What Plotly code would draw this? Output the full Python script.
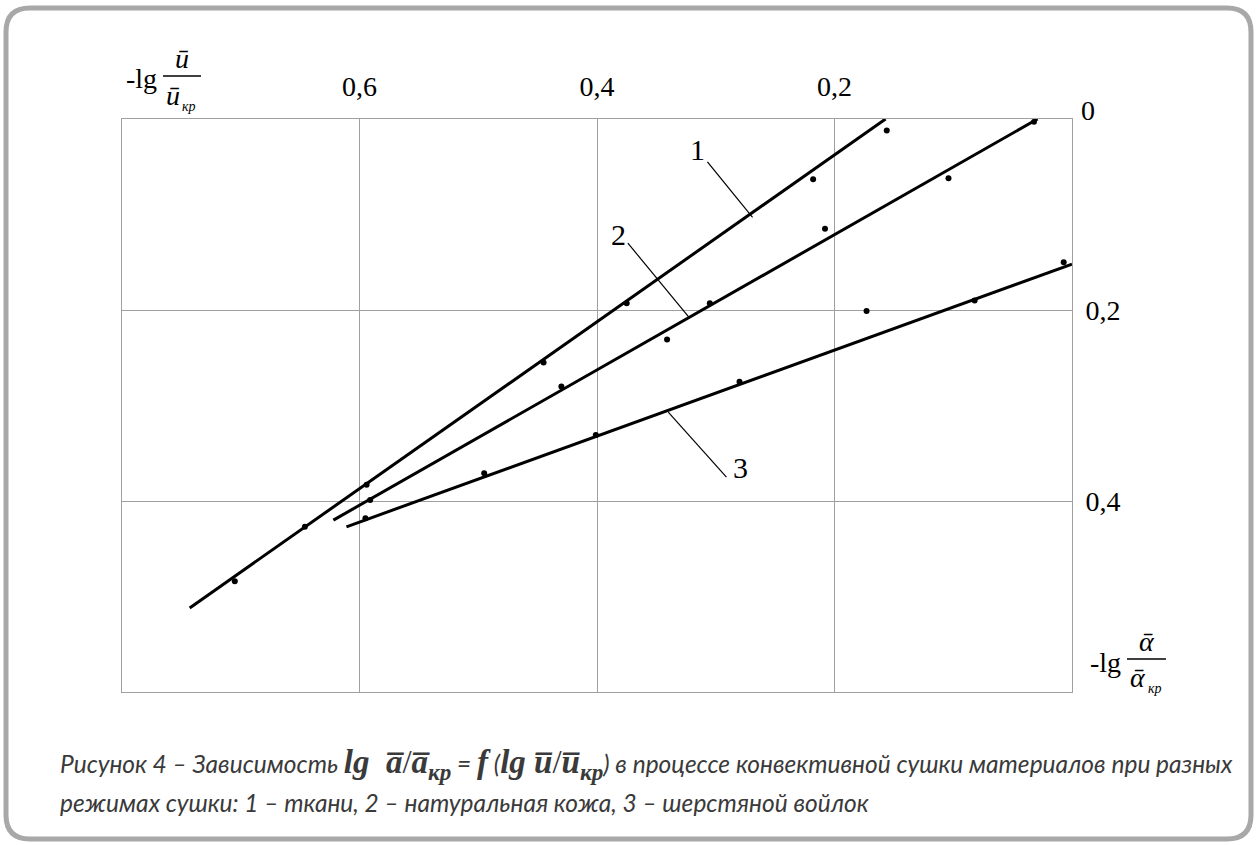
import plotly.graph_objects as go

W, H = 1257, 845

# ---------------- data ----------------
# measured points (x = -lg(u/u_kr), y = -lg(a/a_kr))
s1_x = [0.705, 0.646, 0.594, 0.445, 0.375, 0.218, 0.156]
s1_y = [0.484, 0.427, 0.383, 0.255, 0.193, 0.063, 0.012]
s2_x = [0.591, 0.430, 0.341, 0.305, 0.208, 0.104, 0.032]
s2_y = [0.399, 0.280, 0.231, 0.193, 0.115, 0.062, 0.003]
s3_x = [0.595, 0.495, 0.401, 0.280, 0.173, 0.082, 0.007]
s3_y = [0.418, 0.371, 0.331, 0.275, 0.201, 0.190, 0.150]

# fitted straight lines (end points)
l1_x = [0.743, 0.157]
l1_y = [0.512, 0.0]
l2_x = [0.622, 0.029]
l2_y = [0.420, 0.0]
l3_x = [0.611, 0.0]
l3_y = [0.427, 0.152]

# curve labels and leader lines
lab_text = ["1", "2", "3"]
lab_x = [0.315, 0.382, 0.279]
lab_y = [0.032, 0.121, 0.365]
lead_x0 = [0.307, 0.374, 0.291]
lead_y0 = [0.045, 0.130, 0.375]
lead_x1 = [0.269, 0.323, 0.340]
lead_y1 = [0.103, 0.207, 0.307]

x_ticks = [0.6, 0.4, 0.2]
x_ticktext = ["0,6", "0,4", "0,2"]
y_ticks = [0.2, 0.4]
y_ticktext = ["0,2", "0,4"]
y_zero_text = "0"

SERIF = "Liberation Serif, Times New Roman, serif"


def px(x):
    return x / W


def py(y):
    return 1 - y / H


fig = go.Figure()

for lx, ly in [(l1_x, l1_y), (l2_x, l2_y), (l3_x, l3_y)]:
    fig.add_trace(go.Scatter(x=lx, y=ly, mode="lines",
                             line=dict(color="black", width=3),
                             hoverinfo="skip", showlegend=False))
for sx, sy in [(s1_x, s1_y), (s2_x, s2_y), (s3_x, s3_y)]:
    fig.add_trace(go.Scatter(x=sx, y=sy, mode="markers",
                             marker=dict(color="black", size=6),
                             showlegend=False))

shapes = []
for x0, y0, x1, y1 in zip(lead_x0, lead_y0, lead_x1, lead_y1):
    shapes.append(dict(type="line", xref="x", yref="y", x0=x0, y0=y0, x1=x1, y1=y1,
                       line=dict(color="black", width=1.2)))

# rounded outer frame (pixel geometry converted to paper)
L, R, T, B, r = 6, 1251, 8, 839, 24
path = (f"M {px(L + r)},{py(T)} L {px(R - r)},{py(T)} "
        f"Q {px(R)},{py(T)} {px(R)},{py(T + r)} "
        f"L {px(R)},{py(B - r)} Q {px(R)},{py(B)} {px(R - r)},{py(B)} "
        f"L {px(L + r)},{py(B)} Q {px(L)},{py(B)} {px(L)},{py(B - r)} "
        f"L {px(L)},{py(T + r)} Q {px(L)},{py(T)} {px(L + r)},{py(T)} Z")
shapes.append(dict(type="path", xref="paper", yref="paper", path=path,
                   line=dict(color="#a8a8a8", width=5), layer="below"))

# fraction bars of axis titles
shapes.append(dict(type="line", xref="paper", yref="paper",
                   x0=px(163), x1=px(201), y0=py(76), y1=py(76),
                   line=dict(color="black", width=1.5)))
shapes.append(dict(type="line", xref="paper", yref="paper",
                   x0=px(1127), x1=px(1166), y0=py(659), y1=py(659),
                   line=dict(color="black", width=1.5)))

ann = []
for t, x, y in zip(lab_text, lab_x, lab_y):
    ann.append(dict(x=x, y=y, xref="x", yref="y", text=t, showarrow=False,
                    font=dict(family=SERIF, size=30, color="black")))


def ptext(text, x, y, size, xanchor="center", yanchor="middle", family=SERIF, color="black"):
    ann.append(dict(x=px(x), y=py(y), xref="paper", yref="paper", text=text,
                    showarrow=False, xanchor=xanchor, yanchor=yanchor,
                    font=dict(family=family, size=size, color=color)))


# "0" of the right axis sits just above the frame
ptext(y_zero_text, 1079, 111, 28, xanchor="left")

# top-left axis title: -lg ū / ū_кр
ptext("-lg", 141, 79, 28)
ptext("<i>ū</i>", 182, 59, 28)
ptext("<i>ū</i>", 173, 95, 28)
ptext("<i>кр</i>", 189, 106, 14)

# bottom-right axis title: -lg ᾱ / ᾱ_кр
ptext("-lg", 1105, 662, 28)
ptext("<i>ᾱ</i>", 1147, 641, 28)
ptext("<i>ᾱ</i>", 1138, 677, 28)
ptext("<i>кр</i>", 1155, 688, 14)

# caption
CAP = "Lato, Noto Sans, sans-serif"
MATH = "font-family:'Liberation Serif';font-size:33px"
cap1 = ("<i>Рисунок 4 – Зависимость </i>"
        f"<span style=\"{MATH}\"><b><i>lg</i></b>  <b><i>a̅</i></b>/<b><i>a̅</i></b><sub><b><i>кр</i></b></sub></span>"
        "<i> = </i>"
        f"<span style=\"{MATH}\"><b><i>f</i></b></span>"
        f"<i> (</i><span style=\"{MATH}\"><b><i>lg</i></b> <b><i>u̅</i></b>/<b><i>u̅</i></b><sub><b><i>кр</i></b></sub></span><i>)"
        " в процессе конвективной сушки материалов при разных</i>")
cap2 = "<i>режимах сушки: 1 – ткани, 2 – натуральная кожа, 3 – шерстяной войлок</i>"
ptext(cap1, 58, 764, 24.5, xanchor="left", family=CAP, color="#3a3a3a")
ptext(cap2, 58, 802, 24.5, xanchor="left", family=CAP, color="#3a3a3a")

fig.update_layout(
    width=W, height=H,
    margin=dict(l=0, r=0, t=0, b=0),
    paper_bgcolor="white", plot_bgcolor="white",
    showlegend=False,
    shapes=shapes, annotations=ann,
    xaxis=dict(domain=[px(122), px(1072)], range=[0.8, 0.0], side="top",
               tickvals=x_ticks, ticktext=x_ticktext, ticks="",
               tickfont=dict(family=SERIF, size=28, color="black"),
               showgrid=True, gridcolor="#a0a0a0", gridwidth=1,
               showline=True, mirror=True, linecolor="#a0a0a0", linewidth=1,
               zeroline=False, ticklabelstandoff=11),
    yaxis=dict(domain=[py(692), py(119)], range=[0.6, 0.0], side="right",
               tickvals=y_ticks, ticktext=y_ticktext, ticks="",
               tickfont=dict(family=SERIF, size=28, color="black"),
               showgrid=True, gridcolor="#a0a0a0", gridwidth=1,
               showline=True, mirror=True, linecolor="#a0a0a0", linewidth=1,
               zeroline=False, ticklabelstandoff=7),
)

fig.write_html(
    "out.html",
    config={"displayModeBar": False},
    post_script=(
        "document.body.style.margin='0';document.body.style.padding='0';"
        "var d=document.getElementById('{plot_id}');"
        "d.style.position='absolute';d.style.left='0px';d.style.top='0px';"
        "document.documentElement.style.overflow='hidden';"
    ),
)
